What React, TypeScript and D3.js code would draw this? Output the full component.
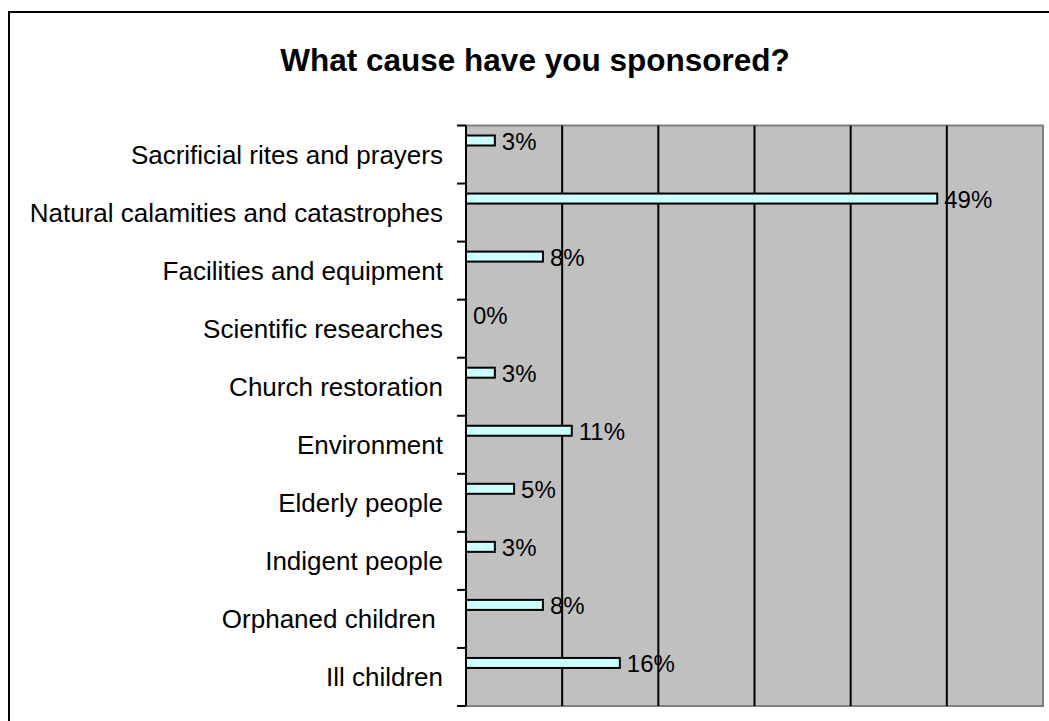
import React from "react";
import * as d3 from "d3";

const title = "What cause have you sponsored?";
const categories = [
  "Sacrificial rites and prayers",
  "Natural calamities and catastrophes",
  "Facilities and equipment",
  "Scientific researches",
  "Church restoration",
  "Environment",
  "Elderly people",
  "Indigent people",
  "Orphaned children ",
  "Ill children",
];
const values = [0.03, 0.49, 0.08, 0, 0.03, 0.11, 0.05, 0.03, 0.08, 0.16];
const xTicks = [0, 0.1, 0.2, 0.3, 0.4, 0.5, 0.6];

const W = 1049;
const H = 721;
const plot = { left: 466, right: 1043, top: 125.5, bottom: 706 };
const font = "'Liberation Sans', Arial, sans-serif";

export default function App() {
  const x = d3.scaleLinear().domain([0, 0.6]).range([plot.left, plot.right]);
  const y = d3
    .scaleBand<string>()
    .domain(categories)
    .range([plot.top, plot.bottom])
    .padding(0);
  const bw = y.bandwidth();
  const fmt = d3.format(".0%");
  const boundaries = categories.map((c) => y(c) as number).concat([plot.bottom]);

  return (
    <svg
      width={W}
      height={H}
      style={{ position: "fixed", left: 0, top: 0, display: "block", background: "#fff" }}
      fontFamily={font}
    >
      <rect x={9} y={12} width={1200} height={900} fill="#fff" stroke="#000" strokeWidth={2} />
      <text x={535} y={70.5} textAnchor="middle" fontSize={31.5} fontWeight="bold" fill="#000">
        {title}
      </text>
      {/* plot area */}
      <rect
        x={plot.left}
        y={plot.top}
        width={plot.right - plot.left}
        height={plot.bottom - plot.top}
        fill="#C0C0C0"
        stroke="#808080"
        strokeWidth={2}
      />
      {/* gridlines */}
      {xTicks.slice(1, -1).map((t) => (
        <line
          key={t}
          x1={x(t)}
          x2={x(t)}
          y1={plot.top}
          y2={plot.bottom}
          stroke="#000"
          strokeWidth={2}
        />
      ))}
      {/* axis */}
      <line x1={plot.left} x2={plot.left} y1={plot.top} y2={plot.bottom} stroke="#000" strokeWidth={2} />
      {boundaries.map((b, i) => (
        <line key={i} x1={plot.left - 9} x2={plot.left} y1={b} y2={b} stroke="#000" strokeWidth={2} />
      ))}
      {/* category labels */}
      {categories.map((c) => (
        <text
          key={c}
          x={443}
          y={(y(c) as number) + bw / 2 + 9}
          textAnchor="end"
          fontSize={26}
          fill="#000"
          style={{ whiteSpace: "pre" }}
        >
          {c}
        </text>
      ))}
      {/* bars */}
      {categories.map((c, i) => {
        const y0 = (y(c) as number) + 10;
        const v = values[i];
        return (
          <g key={c}>
            {v > 0 && (
              <rect
                x={x(0)}
                y={y0}
                width={x(v) - x(0)}
                height={10}
                fill="#CCFFFF"
                stroke="#000"
                strokeWidth={2}
              />
            )}
            <text x={x(v) + 7} y={y0 + 5 + 9} fontSize={24} fill="#000">
              {fmt(v)}
            </text>
          </g>
        );
      })}
    </svg>
  );
}
